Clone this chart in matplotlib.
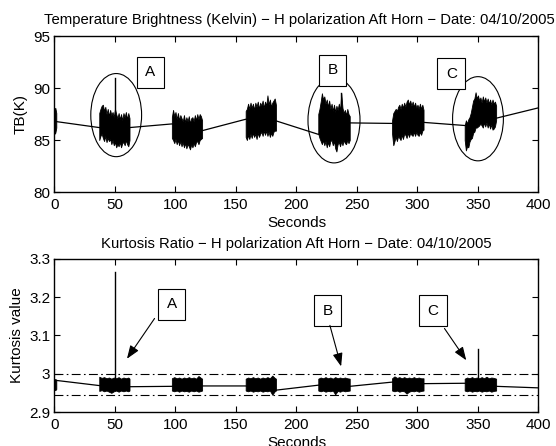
import matplotlib
matplotlib.use("Agg")
import matplotlib.pyplot as plt
from matplotlib.patches import Ellipse

plt.rcParams['font.family'] = ['Liberation Sans', 'DejaVu Sans']

# ---------------- Top panel data (TB, Kelvin) ----------------
# connecting baseline (segment end points)
tb_line_x = [0, 37, 62, 97, 122, 158, 183, 218, 244, 279, 305, 339, 365, 400]
tb_line_y = [86.8, 86.2, 86.2, 86.55, 85.9, 87.0, 86.85, 85.55, 86.65, 86.6, 86.7, 86.4, 87.1, 88.1]

# noisy segments: x, upper envelope, lower envelope
tb_seg_x = [
    [0, 0.7, 1.5],
    [37, 38, 39, 40, 41, 42, 43, 44, 45, 46, 47, 48, 49, 50, 51, 52, 53, 54, 55, 56, 57, 58, 59, 60, 61, 62],
    [97, 98, 99, 100, 101, 102, 103, 104, 105, 106, 107, 108, 109, 110, 111, 112, 113, 114, 115, 116, 117, 118, 119, 120, 121, 122],
    [158, 159, 160, 161, 162, 163, 164, 165, 166, 167, 168, 169, 170, 171, 172, 173, 174, 175, 176, 177, 178, 179, 180, 181, 182, 183],
    [218, 219, 220, 221, 222, 223, 224, 225, 226, 227, 228, 229, 230, 231, 232, 233, 234, 235, 236, 237, 238, 239, 240, 241, 242, 243, 244],
    [279, 280, 281, 282, 283, 284, 285, 286, 287, 288, 289, 290, 291, 292, 293, 294, 295, 296, 297, 298, 299, 300, 301, 302, 303, 304, 305],
    [339, 340, 341, 342, 343, 344, 345, 346, 347, 348, 349, 350, 351, 352, 353, 354, 355, 356, 357, 358, 359, 360, 361, 362, 363, 364, 365],
]
tb_seg_hi = [
    [88.0, 88.1, 87.6],
    [87.6, 88.0, 88.3, 88.4, 87.8, 88.2, 87.5, 88.0, 87.3, 87.9, 87.4, 87.7, 87.2, 88.0, 87.5, 87.1, 87.6, 87.0, 87.5, 86.9, 87.6, 87.2, 87.7, 87.0, 87.6, 87.1],
    [87.2, 87.9, 87.3, 87.7, 87.0, 87.6, 86.9, 87.4, 87.1, 86.8, 87.4, 86.7, 87.2, 86.8, 87.3, 86.6, 87.1, 87.2, 86.8, 87.4, 86.9, 87.5, 87.0, 87.5, 87.3, 86.9],
    [87.8, 88.0, 88.5, 88.0, 88.6, 88.1, 88.5, 87.9, 88.6, 88.2, 88.7, 88.0, 88.6, 88.3, 88.8, 88.1, 88.7, 88.3, 89.3, 88.4, 88.9, 88.2, 88.6, 88.8, 89.0, 88.4],
    [87.5, 88.0, 88.7, 89.5, 88.9, 89.2, 88.5, 88.9, 88.2, 88.8, 88.0, 88.5, 87.8, 88.4, 87.7, 88.3, 87.9, 88.5, 87.8, 89.5, 88.1, 87.6, 87.9, 87.4, 88.0, 87.5, 87.3],
    [86.9, 87.6, 87.8, 88.0, 87.8, 88.2, 88.4, 88.0, 88.5, 88.1, 88.6, 88.2, 88.7, 88.9, 88.4, 88.8, 88.3, 88.7, 88.2, 88.6, 88.1, 88.4, 88.0, 88.5, 88.0, 88.4, 87.9],
    [86.4, 86.9, 86.6, 87.0, 87.2, 87.6, 88.2, 88.8, 89.0, 89.6, 89.0, 89.3, 88.8, 89.1, 88.6, 89.2, 88.7, 89.1, 88.6, 89.0, 88.5, 88.9, 88.4, 88.9, 88.5, 88.7, 88.3],
]
tb_seg_lo = [
    [85.6, 85.7, 86.2],
    [85.0, 85.4, 85.6, 85.2, 84.9, 85.4, 84.8, 85.2, 84.9, 85.1, 84.6, 85.0, 84.5, 84.8, 84.3, 84.6, 84.4, 84.8, 84.3, 84.7, 84.8, 84.5, 85.0, 84.6, 84.4, 85.0],
    [85.2, 85.0, 84.7, 85.1, 84.6, 85.0, 84.5, 84.9, 84.4, 84.8, 84.3, 84.7, 84.2, 84.6, 84.4, 84.1, 84.6, 84.3, 84.7, 84.4, 84.8, 84.9, 84.6, 85.0, 85.1, 85.2],
    [85.3, 85.0, 85.5, 85.1, 85.6, 85.2, 85.7, 85.3, 85.6, 85.1, 85.7, 85.3, 85.6, 85.8, 85.4, 85.9, 85.5, 85.9, 85.4, 85.8, 85.3, 85.7, 85.4, 85.8, 85.9, 85.9],
    [85.6, 85.2, 84.9, 84.6, 85.0, 84.5, 84.9, 84.3, 84.8, 84.4, 84.9, 85.0, 84.5, 84.9, 84.2, 83.9, 84.6, 84.8, 84.4, 84.9, 84.5, 85.0, 84.7, 84.6, 85.0, 84.7, 85.0],
    [85.6, 84.5, 84.9, 85.3, 84.9, 85.4, 85.2, 85.0, 85.5, 85.1, 85.6, 85.5, 85.2, 85.7, 85.3, 85.7, 85.5, 85.4, 85.8, 85.4, 85.8, 85.5, 85.4, 85.8, 85.5, 85.9, 86.0],
    [85.0, 84.0, 84.4, 84.3, 84.85, 85.1, 85.2, 85.7, 85.8, 86.2, 86.2, 86.3, 86.4, 86.6, 86.4, 86.2, 86.7, 86.3, 86.7, 86.2, 86.6, 86.1, 86.5, 86.0, 86.1, 86.3, 86.9],
]
tb_spike_x = [50, 237]
tb_spike_y = [91.0, 89.5]

# ---------------- Bottom panel data (kurtosis) ----------------
ku_line_x = [0, 37, 62, 97, 122, 158, 183, 218, 244, 279, 305, 339, 365, 400]
ku_line_y = [2.983, 2.969, 2.966, 2.967, 2.968, 2.968, 2.957, 2.970, 2.967, 2.978, 2.974, 2.975, 2.967, 2.963]

ku_seg_x = [
    [0, 0.7, 1.5],
    [37, 39, 41, 43, 45, 47, 49, 51, 53, 55, 57, 59, 61, 62],
    [97, 99, 101, 103, 105, 107, 109, 111, 113, 115, 117, 119, 121, 122],
    [158, 160, 162, 164, 166, 168, 170, 172, 174, 176, 178, 180, 182, 183],
    [218, 220, 222, 224, 226, 228, 230, 232, 234, 236, 238, 240, 242, 244],
    [279, 281, 283, 285, 287, 289, 291, 293, 295, 297, 299, 301, 303, 305],
    [339, 341, 343, 345, 347, 349, 351, 353, 355, 357, 359, 361, 363, 365],
]
ku_seg_hi = [
    [2.985, 2.986, 2.984],
    [2.992, 2.989, 2.991, 2.988, 2.990, 2.987, 2.990, 2.988, 2.991, 2.987, 2.990, 2.988, 2.990, 2.987],
    [2.988, 2.991, 2.988, 2.990, 2.987, 2.990, 2.988, 2.991, 2.988, 2.990, 2.987, 2.994, 2.989, 2.987],
    [2.987, 2.990, 2.988, 2.991, 2.988, 2.990, 2.987, 2.990, 2.988, 2.991, 2.988, 2.995, 2.989, 2.987],
    [2.987, 2.990, 2.988, 2.991, 2.988, 2.990, 2.987, 2.991, 2.988, 2.990, 2.988, 2.990, 2.988, 2.987],
    [2.988, 2.993, 2.989, 2.991, 2.988, 2.991, 2.988, 2.990, 2.988, 2.991, 2.988, 2.990, 2.988, 2.988],
    [2.987, 2.990, 2.988, 2.991, 2.988, 2.990, 2.988, 2.991, 2.988, 2.992, 2.988, 2.990, 2.989, 2.987],
]
ku_seg_lo = [
    [2.958, 2.957, 2.960],
    [2.955, 2.957, 2.954, 2.956, 2.953, 2.950, 2.954, 2.956, 2.953, 2.956, 2.954, 2.956, 2.954, 2.956],
    [2.956, 2.954, 2.956, 2.953, 2.956, 2.954, 2.955, 2.953, 2.956, 2.954, 2.956, 2.953, 2.955, 2.956],
    [2.956, 2.954, 2.956, 2.953, 2.955, 2.954, 2.956, 2.953, 2.955, 2.954, 2.956, 2.945, 2.954, 2.956],
    [2.956, 2.954, 2.956, 2.953, 2.955, 2.954, 2.956, 2.946, 2.955, 2.953, 2.956, 2.954, 2.955, 2.956],
    [2.956, 2.954, 2.956, 2.953, 2.955, 2.954, 2.948, 2.953, 2.955, 2.954, 2.956, 2.953, 2.955, 2.956],
    [2.956, 2.954, 2.956, 2.953, 2.955, 2.954, 2.956, 2.953, 2.955, 2.954, 2.956, 2.953, 2.955, 2.956],
]
ku_spike_x = [50, 350]
ku_spike_y = [3.265, 3.065]
ku_limits = [3.0, 2.945]

labels = ['A', 'B', 'C']
tb_box_x = [79, 230, 328]
tb_box_y = [91.5, 91.7, 91.4]
tb_ell_x = [51, 231, 350]
tb_ell_y = [87.4, 86.9, 87.05]
tb_ell_w = [42, 43, 42]
tb_ell_h = [8.0, 8.2, 8.1]

ku_box_x = [97, 226, 313]
ku_box_y = [3.181, 3.164, 3.164]
ku_arrow_from = [(84, 3.150), (227, 3.133), (321, 3.124)]
ku_arrow_to = [(58.6, 3.033), (237.5, 3.012), (341.6, 3.029)]

fs = 11
tfs = 10.75

fig = plt.figure(figsize=(5.56, 4.46), dpi=100)
ax1 = fig.add_axes([0.098, 0.5695, 0.8705, 0.3495])
ax2 = fig.add_axes([0.098, 0.0762, 0.8705, 0.3438])

def style(ax):
    ax.tick_params(direction='in', top=True, right=True, labelsize=fs, length=4, width=0.8)
    ax.tick_params(axis='x', pad=4)
    ax.tick_params(axis='y', pad=3)
    for s in ax.spines.values():
        s.set_linewidth(1.0)
    ax.set_xlim(0, 400)

box = dict(boxstyle='square,pad=0.55', fc='white', ec='k', lw=0.8)

# ----- top -----
ax1.plot(tb_line_x, tb_line_y, color='k', lw=0.9)
for xs, hi, lo in zip(tb_seg_x, tb_seg_hi, tb_seg_lo):
    ax1.fill_between(xs, lo, hi, color='k', lw=0.6, edgecolor='k')
for sx, sy in zip(tb_spike_x, tb_spike_y):
    ax1.plot([sx, sx], [86.5, sy], color='k', lw=1.0)
for lab, bx, by in zip(labels, tb_box_x, tb_box_y):
    ax1.text(bx, by, lab, ha='center', va='center', fontsize=fs, bbox=box)
for ex, ey, ew, eh in zip(tb_ell_x, tb_ell_y, tb_ell_w, tb_ell_h):
    ax1.add_patch(Ellipse((ex, ey), ew, eh, fill=False, ec='k', lw=0.8))
ax1.set_ylim(80, 95)
ax1.set_xticks([0, 50, 100, 150, 200, 250, 300, 350, 400])
ax1.set_yticks([80, 85, 90, 95])
style(ax1)
ax1.set_title('Temperature Brightness (Kelvin) \u2212 H polarization Aft Horn \u2212 Date: 04/10/2005',
              fontsize=tfs, pad=9, x=0.506)
ax1.set_xlabel('Seconds', fontsize=fs, labelpad=3)
ax1.set_ylabel('TB(K)', fontsize=fs, labelpad=4)

# ----- bottom -----
ax2.plot(ku_line_x, ku_line_y, color='k', lw=0.9)
for xs, hi, lo in zip(ku_seg_x, ku_seg_hi, ku_seg_lo):
    ax2.fill_between(xs, lo, hi, color='k', lw=0.6, edgecolor='k')
for sx, sy in zip(ku_spike_x, ku_spike_y):
    ax2.plot([sx, sx], [2.97, sy], color='k', lw=1.0)
for yv in ku_limits:
    ax2.axhline(yv, color='k', ls='-.', lw=0.8, dashes=(8, 3, 1.5, 3))
for lab, bx, by in zip(labels, ku_box_x, ku_box_y):
    ax2.text(bx, by, lab, ha='center', va='center', fontsize=fs, bbox=box)
for (fx, fy), (tx, ty) in zip(ku_arrow_from, ku_arrow_to):
    ax2.annotate('', xy=(tx, ty), xytext=(fx, fy),
                 arrowprops=dict(arrowstyle='-|>,head_length=0.8,head_width=0.3', lw=0.8, color='k', fc='k'))
ax2.set_ylim(2.9, 3.3)
ax2.set_xticks([0, 50, 100, 150, 200, 250, 300, 350, 400])
ax2.set_yticks([2.9, 3.0, 3.1, 3.2, 3.3])
ax2.set_yticklabels(['2.9', '3', '3.1', '3.2', '3.3'])
style(ax2)
ax2.set_title('Kurtosis Ratio \u2212 H polarization Aft Horn \u2212 Date: 04/10/2005', fontsize=tfs, pad=8)
ax2.set_xlabel('Seconds', fontsize=fs, labelpad=3)
ax2.set_ylabel('Kurtosis value', fontsize=fs, labelpad=4)

fig.savefig('out.png', dpi=100)
